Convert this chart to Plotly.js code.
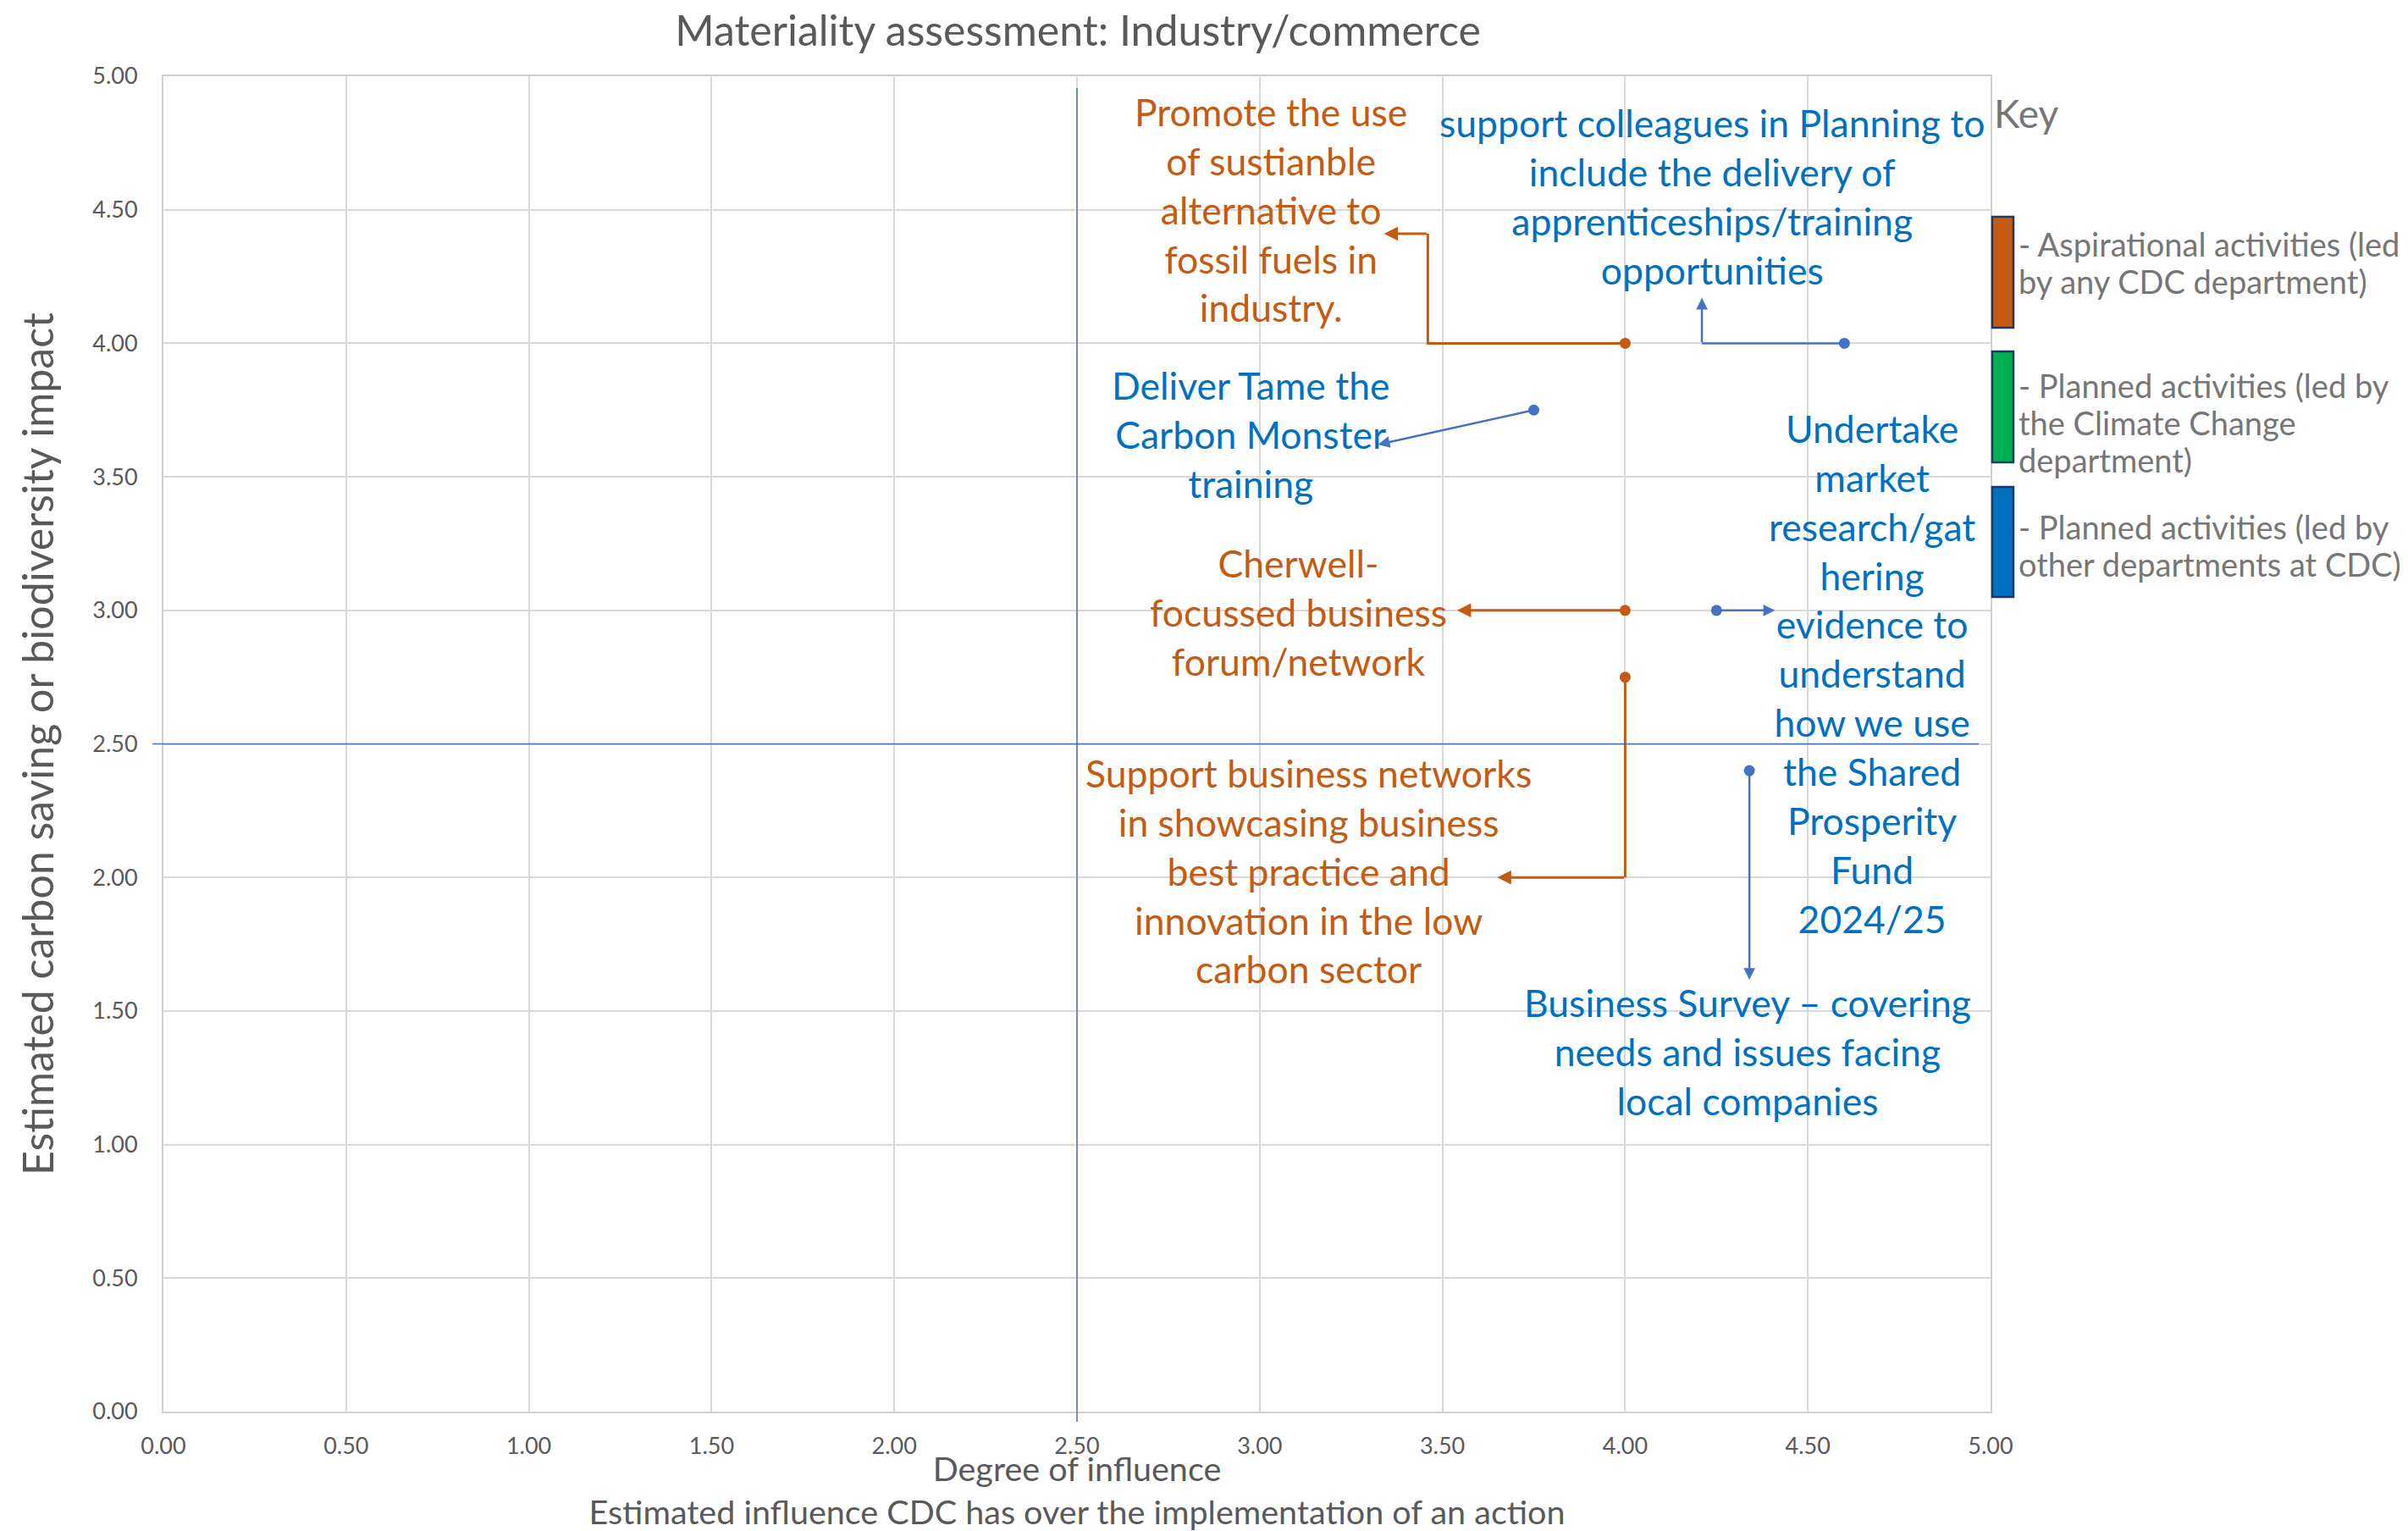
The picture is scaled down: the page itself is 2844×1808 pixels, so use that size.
<!DOCTYPE html>
<html>
<head>
<meta charset="utf-8">
<script src="https://cdn.plot.ly/plotly-3.0.1.min.js"></script>
<style>
html, body { margin: 0; padding: 0; background: #ffffff; }
#chart { width: 2844px; height: 1808px; }
</style>
</head>
<body>
<div id="chart"></div>
<script>
// ---------------- DATA ----------------
const aspirationalLabels = [
  "Promote the use<br>of sustianble<br>alternative to<br>fossil fuels in<br>industry.",
  "Cherwell-<br>focussed business<br>forum/network",
  "Support business networks<br>in showcasing business<br>best practice and<br>innovation in the low<br>carbon sector"
];
const aspirationalInfluence = [4.0, 4.0, 4.0];
const aspirationalImpact = [4.0, 3.0, 2.75];

const otherDeptLabels = [
  "support colleagues in Planning to<br>include the delivery of<br>apprenticeships/training<br>opportunities",
  "Deliver Tame the<br>Carbon Monster<br>training",
  "Undertake<br>market<br>research/gat<br>hering<br>evidence to<br>understand<br>how we use<br>the Shared<br>Prosperity<br>Fund<br>2024/25",
  "Business Survey – covering<br>needs and issues facing<br>local companies"
];
const otherDeptInfluence = [4.6, 3.75, 4.25, 4.34];
const otherDeptImpact = [4.0, 3.75, 3.0, 2.4];

const keyTitle = "Key";
const keyLabels = [
  ["- Aspirational activities (led", "by any CDC department)"],
  ["- Planned activities (led by", "the Climate Change", "department)"],
  ["- Planned activities (led by", "other departments at CDC)"]
];

const tickValues = [0, 0.5, 1, 1.5, 2, 2.5, 3, 3.5, 4, 4.5, 5];
const tickLabels = ["0.00", "0.50", "1.00", "1.50", "2.00", "2.50", "3.00", "3.50", "4.00", "4.50", "5.00"];

const midInfluence = 2.5;
const midImpact = 2.5;

const chartTitle = "Materiality assessment: Industry/commerce";
const xTitle = "Degree of influence<br>Estimated influence CDC has over the implementation of an action";
const yTitle = "Estimated carbon saving or biodiversity impact";

// ---------------- PLACEMENT / STYLE ----------------
const ORANGE = "#C55A11";
const BLUE_TEXT = "#0070C0";
const BLUE_MARK = "#4472C4";
const GREEN = "#00B050";
const GREY = "#595959";
const KEYGREY = "#767676";
const PLOT_H = 1577; // plot height in px, used for key line spacing

// label centre, elbow points and arrow tip (data units) for each point
const aspirationalPlacement = [
  { label: [3.03, 4.502], bends: [[3.46, 4.0], [3.46, 4.41]], tip: [3.34, 4.41] },
  { label: [3.106, 2.995], bends: [], tip: [3.54, 3.0] },
  { label: [3.134, 2.027], bends: [[4.0, 2.0]], tip: [3.65, 2.0] }
];
const otherDeptPlacement = [
  { label: [4.238, 4.552], bends: [[4.21, 4.0]], tip: [4.21, 4.17] },
  { label: [2.975, 3.662], bends: [], tip: [3.324, 3.621] },
  { label: [4.676, 2.765], bends: [], tip: [4.41, 3.0] },
  { label: [4.336, 1.35], bends: [], tip: [4.34, 1.617] }
];

const traces = [];
const annotations = [];

function addSeries(xs, ys, labels, placement, lineColor, lineWidth, markColor, textColor) {
  placement.forEach(function (p, i) {
    const px = [xs[i]].concat(p.bends.map(function (b) { return b[0]; }));
    const py = [ys[i]].concat(p.bends.map(function (b) { return b[1]; }));
    if (px.length > 1) {
      traces.push({
        type: "scatter", mode: "lines", x: px, y: py,
        line: { color: lineColor, width: lineWidth },
        hoverinfo: "skip", showlegend: false, cliponaxis: false
      });
    }
    annotations.push({
      x: p.tip[0], y: p.tip[1], xref: "x", yref: "y",
      ax: px[px.length - 1], ay: py[py.length - 1], axref: "x", ayref: "y",
      text: "", showarrow: true, arrowhead: 2, arrowsize: 1.1,
      arrowwidth: lineWidth, arrowcolor: lineColor, standoff: 0
    });
    annotations.push({
      x: p.label[0], y: p.label[1], xref: "x", yref: "y",
      text: labels[i], showarrow: false, align: "center",
      xanchor: "center", yanchor: "middle",
      font: { family: "Lato", size: 44.5, color: textColor }
    });
  });
  traces.push({
    type: "scatter", mode: "markers", x: xs, y: ys,
    marker: { color: markColor, size: 13 },
    hoverinfo: "skip", showlegend: false, cliponaxis: false
  });
}

addSeries(aspirationalInfluence, aspirationalImpact, aspirationalLabels, aspirationalPlacement, ORANGE, 3, ORANGE, ORANGE);
addSeries(otherDeptInfluence, otherDeptImpact, otherDeptLabels, otherDeptPlacement, BLUE_MARK, 2.5, BLUE_MARK, BLUE_TEXT);

// key
annotations.push({
  x: 1.0009, y: 0.9727, xref: "paper", yref: "paper", xanchor: "left", yanchor: "middle",
  text: keyTitle, showarrow: false, font: { family: "Lato", size: 46, color: KEYGREY }
});
const keyColors = [ORANGE, GREEN, BLUE_TEXT];
const keyFirstLineY = [0.8745, 0.7685, 0.6627];
const keyLineStep = 44 / PLOT_H;
const keyBoxes = [[0.8947, 0.8117], [0.7939, 0.7108], [0.6924, 0.6100]];
keyLabels.forEach(function (lines, i) {
  lines.forEach(function (t, j) {
    annotations.push({
      x: 1.0143, y: keyFirstLineY[i] - j * keyLineStep, xref: "paper", yref: "paper",
      xanchor: "left", yanchor: "middle",
      text: t, showarrow: false, align: "left", font: { family: "Lato", size: 38, color: KEYGREY }
    });
  });
});

const shapes = [
  { type: "line", xref: "x", yref: "paper", x0: midInfluence, x1: midInfluence, y0: -0.0076, y1: 0.9911,
    line: { color: BLUE_MARK, width: 1.5 }, layer: "above" },
  { type: "line", xref: "paper", yref: "y", x0: -0.006, x1: 0.9935, y0: midImpact, y1: midImpact,
    line: { color: BLUE_MARK, width: 1.5 }, layer: "above" }
];
keyBoxes.forEach(function (b, i) {
  shapes.push({
    type: "rect", xref: "paper", yref: "paper", x0: 1.0009, x1: 1.0125, y0: b[1], y1: b[0],
    fillcolor: keyColors[i], line: { color: "#1F3864", width: 2.5 }
  });
});

const axisCommon = {
  range: [0, 5], tickmode: "array", tickvals: tickValues, ticktext: tickLabels,
  showgrid: true, gridcolor: "#D9D9D9", gridwidth: 2,
  zeroline: false, showline: true, linecolor: "#D0D0D0", linewidth: 2, mirror: true,
  ticks: "", tickfont: { family: "Lato", size: 27, color: GREY }, fixedrange: true
};

const layout = {
  width: 2844, height: 1808,
  margin: { l: 193, r: 493, t: 90, b: 141, pad: 0 },
  paper_bgcolor: "#ffffff", plot_bgcolor: "#ffffff",
  showlegend: false, hovermode: false,
  font: { family: "Lato", color: GREY },
  title: {
    text: chartTitle, x: 0.5005, xref: "paper", xanchor: "center",
    y: 0.980, yref: "container", yanchor: "middle",
    font: { family: "Lato", size: 50, color: GREY }
  },
  xaxis: Object.assign({}, axisCommon, {
    ticklabelstandoff: 16,
    title: { text: xTitle, standoff: 8, font: { family: "Lato", size: 39.5, color: GREY } }
  }),
  yaxis: Object.assign({}, axisCommon, {
    ticklabelstandoff: 23,
    title: { text: yTitle, standoff: 30, font: { family: "Lato", size: 50, color: GREY } }
  }),
  annotations: annotations,
  shapes: shapes
};

Plotly.newPlot("chart", traces, layout, { displayModeBar: false, staticPlot: true });
</script>
</body>
</html>
